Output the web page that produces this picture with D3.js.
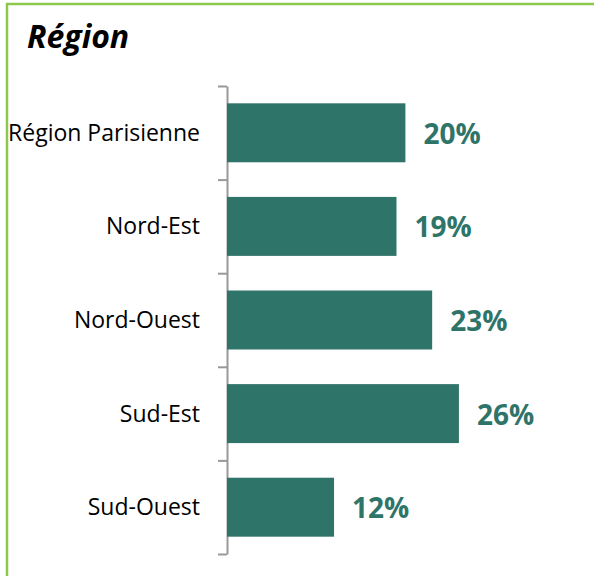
<!DOCTYPE html>
<html>
<head>
<meta charset="utf-8">
<script src="https://cdn.jsdelivr.net/npm/d3@7"></script>
<style>
  body { margin: 0; background: #fff; }
  svg { display: block; }
</style>
</head>
<body>
<div id="chart"></div>
<script>
var regions = ["Région Parisienne", "Nord-Est", "Nord-Ouest", "Sud-Est", "Sud-Ouest"];
var shares = [20, 19, 23, 26, 12];
var chartTitle = "Région";

var param = {
  width : 594,
  height : 576,
  axisX : 227,
  top : 86,
  bottom : 554,
  pxPerMax : 8.92 * 30,
  barColor : "#2f7468",
  font : "'Open Sans', sans-serif"
};

function draw() {
  var svg = d3.select("#chart")
              .append("svg")
              .attr("width", param.width)
              .attr("height", param.height);

  // frame (only top and left edges are visible in the picture)
  svg.append("line")
     .attr("x1", 6).attr("y1", 4).attr("x2", param.width).attr("y2", 4)
     .style("stroke", "#8cc84b").style("stroke-width", 2.5);
  svg.append("line")
     .attr("x1", 7).attr("y1", 3).attr("x2", 7).attr("y2", param.height)
     .style("stroke", "#8cc84b").style("stroke-width", 2.5);

  svg.append("text")
     .attr("x", 27)
     .attr("y", 48)
     .text(chartTitle)
     .style("font-family", param.font)
     .style("font-size", "32px")
     .style("font-weight", "bold")
     .style("font-style", "italic")
     .style("fill", "#000");

  var y = d3.scaleBand()
            .domain(regions)
            .range([param.top, param.bottom])
            .paddingInner(0.37)
            .paddingOuter(0.185);

  var x = d3.scaleLinear()
            .domain([0, 30])
            .range([param.axisX, param.axisX + param.pxPerMax]);

  // boundary ticks between categories
  var edge = d3.scaleLinear()
               .domain([0, regions.length])
               .range([param.top, param.bottom]);

  var axis = svg.append("g")
                .attr("transform", "translate(" + param.axisX + ",0)")
                .call(d3.axisLeft(edge)
                        .tickValues(d3.range(regions.length + 1))
                        .tickSize(9)
                        .tickSizeOuter(0)
                        .tickFormat(""));
  axis.selectAll("line, path")
      .style("stroke", "#999")
      .style("stroke-width", 2);

  var rows = regions.map(function(r, i) { return {label : r, value : shares[i]}; });

  svg.selectAll(".bar")
     .data(rows)
     .enter()
     .append("rect")
     .attr("class", "bar")
     .attr("x", x(0))
     .attr("y", function(d) { return y(d.label); })
     .attr("width", function(d) { return x(d.value) - x(0); })
     .attr("height", y.bandwidth())
     .style("fill", param.barColor);

  svg.selectAll(".cat")
     .data(rows)
     .enter()
     .append("text")
     .attr("class", "cat")
     .attr("x", 200)
     .attr("y", function(d) { return y(d.label) + y.bandwidth() / 2 + 8; })
     .text(function(d) { return d.label; })
     .style("font-family", param.font)
     .style("font-size", "23px")
     .style("text-anchor", "end")
     .style("fill", "#000");

  svg.selectAll(".val")
     .data(rows)
     .enter()
     .append("text")
     .attr("class", "val")
     .attr("x", function(d) { return x(d.value) + 18; })
     .attr("y", function(d) { return y(d.label) + y.bandwidth() / 2 + 11; })
     .text(function(d) { return d.value + "%"; })
     .style("font-family", param.font)
     .style("font-size", "28px")
     .style("font-weight", "bold")
     .style("fill", param.barColor);
}

draw();
</script>
</body>
</html>
